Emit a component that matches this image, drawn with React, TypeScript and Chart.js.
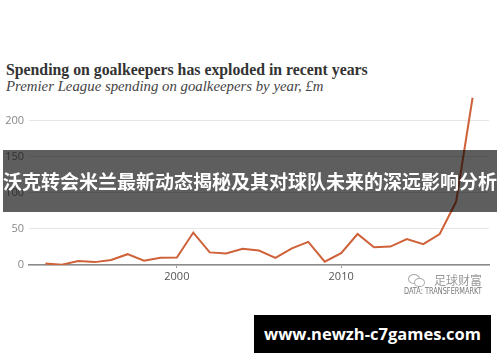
import React, { useEffect, useRef } from "react";
import { Chart, registerables } from "chart.js";

Chart.register(...registerables);

const titleText = "Spending on goalkeepers has exploded in recent years";
const subtitleText = "Premier League spending on goalkeepers by year, £m";
const bannerText = "沃克转会米兰最新动态揭秘及其对球队未来的深远影响分析";
const sourceText = "DATA: TRANSFERMARKT";
const watermarkText = "足球财富";
const urlText = "www.newzh-c7games.com";

const years = [
  1992, 1993, 1994, 1995, 1996, 1997, 1998, 1999, 2000, 2001, 2002, 2003, 2004, 2005,
  2006, 2007, 2008, 2009, 2010, 2011, 2012, 2013, 2014, 2015, 2016, 2017, 2018,
];
const spending = [
  2, 0.5, 5.5, 4, 7, 15, 6, 10, 10.5, 45, 17.5, 16, 22.5, 20,
  10, 23, 32, 4.5, 16.5, 43, 24.5, 25.5, 36, 29, 43, 88, 232,
];
const yTicks = [0, 50, 100, 150, 200];
const xTicks = [2000, 2010];

export default function App() {
  const ref = useRef<HTMLCanvasElement | null>(null);

  useEffect(() => {
    if (!ref.current) return;
    const chart = new Chart(ref.current, {
      type: "line",
      data: {
        datasets: [
          {
            data: years.map((y, i) => ({ x: y, y: spending[i] })),
            borderColor: "#cf6139",
            borderWidth: 2,
            pointRadius: 0,
            tension: 0,
            fill: false,
          },
        ],
      },
      options: {
        animation: false,
        responsive: false,
        layout: { padding: { left: 0, right: 11, top: 92, bottom: 77 } },
        plugins: { legend: { display: false }, tooltip: { enabled: false } },
        scales: {
          x: {
            type: "linear",
            min: 1991,
            max: 2019,
            afterBuildTicks: (axis: any) => {
              axis.ticks = xTicks.map((v) => ({ value: v }));
            },
            afterFit: (scale: any) => {
              scale.height = 20;
            },
            grid: {
              drawOnChartArea: false,
              drawTicks: true,
              tickLength: 3,
              color: "#999",
            },
            border: { display: true, color: "#8a8a8a", width: 1.5 },
            ticks: {
              padding: 2,
              color: "#555",
              font: { family: "Open Sans", size: 11 },
              maxRotation: 0,
              callback: (v: any) => String(v),
            },
          },
          y: {
            min: 0,
            max: 240,
            afterBuildTicks: (axis: any) => {
              axis.ticks = yTicks.map((v) => ({ value: v }));
            },
            afterFit: (scale: any) => {
              scale.width = 29;
            },
            grid: { color: "#e6e6e6", drawTicks: false, lineWidth: 1 },
            border: { display: false },
            ticks: {
              padding: 5,
              color: "#888",
              font: { family: "Open Sans", size: 11 },
            },
          },
        },
      },
    });
    return () => chart.destroy();
  }, []);

  return (
    <div
      style={{
        position: "fixed",
        left: 0,
        top: 0,
        width: 500,
        height: 362,
        background: "#fff",
        overflow: "hidden",
      }}
    >
      <div
        style={{
          position: "absolute",
          left: 6,
          top: 61,
          fontFamily: "'Liberation Serif', serif",
          fontWeight: "bold",
          fontSize: 15.8,
          color: "#333",
          whiteSpace: "nowrap",
          lineHeight: "18px",
        }}
      >
        {titleText}
      </div>
      <div
        style={{
          position: "absolute",
          left: 6,
          top: 77,
          fontFamily: "'Liberation Serif', serif",
          fontStyle: "italic",
          fontSize: 14.8,
          color: "#444",
          whiteSpace: "nowrap",
          lineHeight: "18px",
        }}
      >
        {subtitleText}
      </div>
      <canvas
        ref={ref}
        width={500}
        height={362}
        style={{ position: "absolute", left: 0, top: 0, width: 500, height: 362 }}
      />
      <div
        style={{
          position: "absolute",
          left: 408,
          top: 273,
          width: 16,
          height: 13,
        }}
      >
        <div
          style={{
            position: "absolute",
            left: 0,
            top: 1,
            width: 10,
            height: 8,
            border: "1px solid #aaa",
            borderRadius: "50%",
          }}
        />
        <div
          style={{
            position: "absolute",
            left: 6,
            top: 5,
            width: 9,
            height: 7,
            border: "1px solid #aaa",
            borderRadius: "50%",
            background: "#fff",
          }}
        />
      </div>
      <div
        style={{
          position: "absolute",
          left: 434,
          top: 272,
          fontFamily: "'Noto Sans CJK SC', sans-serif",
          fontSize: 12,
          color: "#999",
          lineHeight: "16px",
          whiteSpace: "nowrap",
        }}
      >
        {watermarkText}
      </div>
      <div
        style={{
          position: "absolute",
          left: 404,
          top: 286,
          fontFamily: "'DejaVu Sans Condensed', 'Liberation Sans', sans-serif",
          fontSize: 8.5,
          color: "#777",
          lineHeight: "10px",
          whiteSpace: "nowrap",
          transform: "scaleX(0.86)",
          transformOrigin: "left center",
        }}
      >
        {sourceText}
      </div>
      <div
        style={{
          position: "absolute",
          left: 3,
          top: 150,
          width: 494,
          height: 62,
          background: "rgba(0,0,0,0.63)",
          display: "flex",
          alignItems: "center",
          justifyContent: "center",
        }}
      >
        <span
          style={{
            fontFamily: "'Noto Sans CJK SC', sans-serif",
            fontWeight: "bold",
            fontSize: 19,
            color: "#fff",
            whiteSpace: "nowrap",
            lineHeight: "22px",
            letterSpacing: 0,
          }}
        >
          {bannerText}
        </span>
      </div>
      <div
        style={{
          position: "absolute",
          left: 254,
          top: 315,
          width: 237,
          height: 38,
          background: "#000",
          display: "flex",
          alignItems: "center",
          justifyContent: "center",
        }}
      >
        <span
          style={{
            fontFamily: "'Open Sans', sans-serif",
            fontWeight: "bold",
            fontSize: 16.5,
            color: "#fff",
            whiteSpace: "nowrap",
            lineHeight: "20px",
          }}
        >
          {urlText}
        </span>
      </div>
    </div>
  );
}
